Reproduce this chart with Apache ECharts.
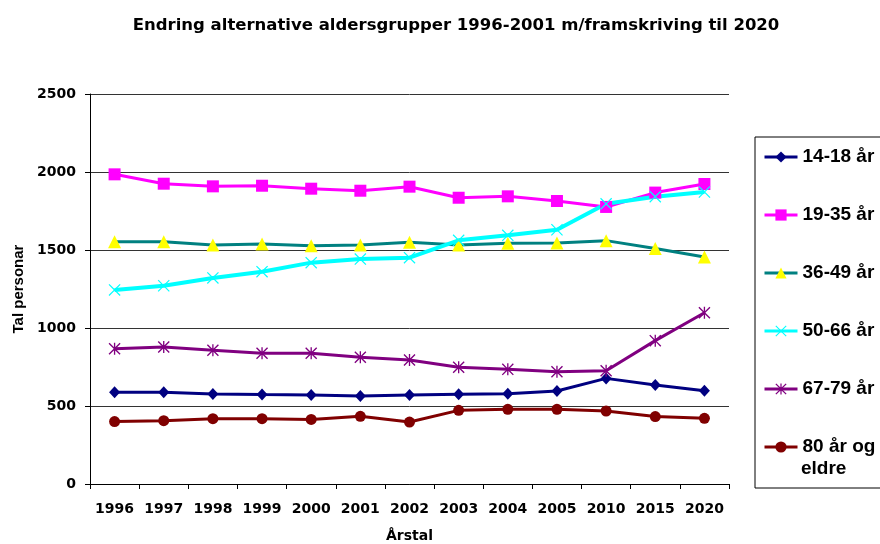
<!DOCTYPE html>
<html>
<head>
<meta charset="utf-8">
<script src="https://cdn.jsdelivr.net/npm/echarts@6/dist/echarts.min.js"></script>
<style>
  html, body { margin: 0; padding: 0; background: #fff; }
  #chart { width: 880px; height: 544px; }
</style>
</head>
<body>
<div id="chart"></div>
<script>
// Years on the category axis
const years = ['1996', '1997', '1998', '1999', '2000', '2001', '2002', '2003', '2004', '2005', '2010', '2015', '2020'];

// Population per age group
const age14to18 = [588, 588, 577, 573, 571, 564, 571, 575, 579, 596, 677, 635, 598];
const age19to35 = [1985, 1925, 1908, 1912, 1893, 1880, 1906, 1835, 1844, 1814, 1776, 1868, 1923];
const age36to49 = [1553, 1553, 1532, 1538, 1528, 1532, 1549, 1532, 1543, 1545, 1560, 1509, 1455];
const age50to66 = [1244, 1271, 1321, 1361, 1419, 1442, 1451, 1562, 1594, 1630, 1796, 1842, 1872];
const age67to79 = [867, 878, 857, 838, 838, 812, 795, 748, 735, 720, 726, 919, 1098];
const age80plus = [400, 406, 419, 419, 414, 434, 397, 472, 479, 479, 468, 432, 421];

const seriesNames = ['14-18 år', '19-35 år', '36-49 år', '50-66 år', '67-79 år', '80 år og eldre'];

// Value axis ticks
const yMin = 0, yMax = 2500, yStep = 500;

// Marker shapes drawn as filled outlines
const crossPath = 'path://M0,0.7L0.7,0L5,4.3L9.3,0L10,0.7L5.7,5L10,9.3L9.3,10L5,5.7L0.7,10L0,9.3L4.3,5Z';
const starPath = 'path://M0,0.8L0.8,0L5,4.2L9.2,0L10,0.8L5.8,5L10,9.2L9.2,10L5,5.8L0.8,10L0,9.2L4.2,5Z M4.45,0L5.55,0L5.55,10L4.45,10Z';

const tickFont = 'DejaVu Sans';
const labelFont = 'Liberation Sans';

function lineSeries(name, data, lineColor, markColor, symbol, size, width) {
  return {
    name: name,
    type: 'line',
    data: data,
    symbol: symbol,
    symbolSize: size,
    showAllSymbol: true,
    lineStyle: { color: lineColor, width: width },
    itemStyle: { color: markColor },
    emphasis: { disabled: true },
    animation: false
  };
}

const chart = echarts.init(document.getElementById('chart'), null, { renderer: 'canvas' });

chart.setOption({
  backgroundColor: '#ffffff',
  animation: false,
  title: {
    text: 'Endring alternative aldersgrupper 1996-2001 m/framskriving til 2020',
    left: 451,
    top: 12,
    textAlign: 'center',
    textStyle: { fontFamily: tickFont, fontWeight: 'bold', fontSize: 16.5, color: '#000' }
  },
  legend: {
    orient: 'vertical',
    left: 755,
    top: 137,
    padding: [9, 60, 30, 8],
    itemWidth: 33,
    itemHeight: 14,
    itemGap: 36,
    borderColor: '#000',
    borderWidth: 1,
    selectedMode: false,
    lineStyle: { width: 3 },
    textStyle: { fontFamily: labelFont, fontWeight: 'bold', fontSize: 19, lineHeight: 22, color: '#000' },
    // the last group name wraps: its second word sits on its own line below
    formatter: function (name) {
      return name === seriesNames[5] ? '80 år og' : name;
    },
    data: seriesNames
  },
  graphic: [{
    type: 'text',
    left: 801,
    top: 459,
    style: { text: 'eldre', font: 'bold 19px "Liberation Sans"', fill: '#000' },
    silent: true
  }],
  grid: { left: 90, right: 151, top: 94, bottom: 60, containLabel: false, outerBoundsMode: 'none' },
  xAxis: {
    type: 'category',
    data: years,
    boundaryGap: true,
    name: 'Årstal',
    nameLocation: 'middle',
    nameGap: 45,
    nameTextStyle: { fontFamily: tickFont, fontWeight: 'bold', fontSize: 14, color: '#000' },
    axisLine: { lineStyle: { color: '#000', width: 1 } },
    axisTick: { show: true, length: 5, inside: false, alignWithLabel: false, lineStyle: { color: '#000' } },
    axisLabel: { interval: 0, margin: 18, fontFamily: tickFont, fontWeight: 'bold', fontSize: 14, color: '#000' },
    splitLine: { show: false }
  },
  yAxis: {
    type: 'value',
    min: yMin,
    max: yMax,
    interval: yStep,
    name: 'Tal personar',
    nameLocation: 'middle',
    nameGap: 59,
    nameRotate: 90,
    nameTextStyle: { fontFamily: labelFont, fontWeight: 'bold', fontSize: 15, color: '#000' },
    axisLine: { show: true, lineStyle: { color: '#000', width: 1 } },
    axisTick: { show: true, length: 5, inside: false, lineStyle: { color: '#000' } },
    axisLabel: {
      margin: 14, fontFamily: tickFont, fontWeight: 'bold', fontSize: 14, color: '#000',
      formatter: function (v) { return String(v); }
    },
    splitLine: { show: true, lineStyle: { color: '#333', width: 1 } }
  },
  series: [
    lineSeries(seriesNames[0], age14to18, '#000080', '#000080', 'diamond', [11, 12], 3),
    lineSeries(seriesNames[1], age19to35, '#ff00ff', '#ff00ff', 'rect', 12, 3),
    lineSeries(seriesNames[2], age36to49, '#008080', '#ffff00', 'triangle', 13, 3),
    lineSeries(seriesNames[3], age50to66, '#00ffff', '#00ffff', crossPath, 12, 4),
    lineSeries(seriesNames[4], age67to79, '#800080', '#800080', starPath, 12, 3),
    lineSeries(seriesNames[5], age80plus, '#800000', '#800000', 'circle', 11, 3)
  ]
});
</script>
</body>
</html>
